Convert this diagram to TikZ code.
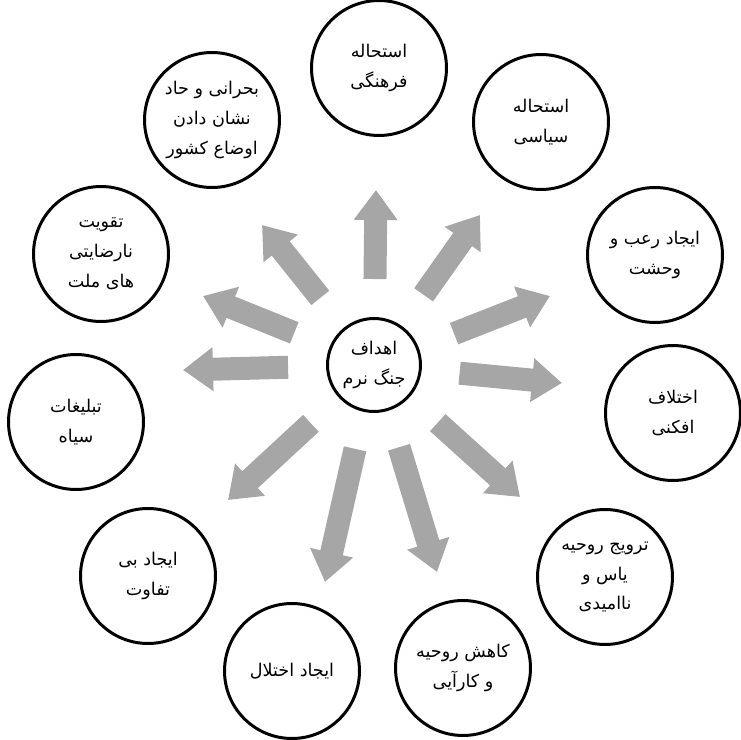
\documentclass[tikz,border=0pt]{standalone}
\usepackage{fontspec}
\newfontfamily\persianfont[Script=Arabic]{DejaVu Sans}
\TeXXeTstate=1
\usepackage{tikz}
\usetikzlibrary{arrows.meta}
\definecolor{arrowgray}{RGB}{166,166,166}
\newcommand{\fa}[1]{\beginR #1\endR}
\tikzset{
  goal circle/.style={
    circle, draw=black, line width=1.7pt, fill=white,
    minimum size=2.7cm, inner sep=0pt, align=center,
    font=\persianfont\fontsize{10}{17}\selectfont
  },
  centre circle/.style={goal circle, minimum size=1.86cm},
  goal arrow/.style={
    draw=arrowgray, line width=0.46cm,
    -{Triangle[length=0.6cm, width=0.84cm]},
    shorten <=0.76cm
  }
}

\begin{document}
\begin{tikzpicture}[x=0.02cm, y=-0.02cm]
    \useasboundingbox (0,0) rectangle (741,740);
    % centre
    \node[centre circle] (goals) at (374,365) {\fa{اهداف}\\\fa{جنگ نرم}};
    % goals around it
    \node[goal circle] (cultural) at (379,68) {\fa{استحاله}\\\fa{فرهنگی}};
    \node[goal circle] (political) at (541,122) {\fa{استحاله}\\\fa{سیاسی}};
    \node[goal circle] (terror) at (655,255) {\fa{ایجاد رعب و}\\\fa{وحشت}};
    \node[goal circle] (discord) at (673,413) {\fa{اختلاف}\\\fa{افکنی}};
    \node[goal circle] (despair) at (605,577) {\fa{ترویج روحیه}\\\fa{یاس و}\\\fa{ناامیدی}};
    \node[goal circle] (morale) at (463,668) {\fa{کاهش روحیه}\\\fa{و کارآیی}};
    \node[goal circle] (disruption) at (292,671) {\fa{ایجاد اختلال}};
    \node[goal circle] (apathy) at (148,576) {\fa{ایجاد بی}\\\fa{تفاوت}};
    \node[goal circle] (propaganda) at (76,422) {\fa{تبلیغات}\\\fa{سیاه}};
    \node[goal circle] (discontent) at (101,254) {\fa{تقویت}\\\fa{نارضایتی}\\\fa{های ملت}};
    \node[goal circle] (crisis) at (212,120) {\fa{بحرانی و حاد}\\\fa{نشان دادن}\\\fa{اوضاع کشور}};
    % arrow tips
    \coordinate (cultural tip) at (376,190);
    \coordinate (political tip) at (480,215);
    \coordinate (terror tip) at (550,296);
    \coordinate (discord tip) at (562,383);
    \coordinate (despair tip) at (520,497);
    \coordinate (morale tip) at (437,572);
    \coordinate (disruption tip) at (325,582);
    \coordinate (apathy tip) at (228,500);
    \coordinate (propaganda tip) at (183,370);
    \coordinate (discontent tip) at (203,296);
    \coordinate (crisis tip) at (262,225);
    \draw[goal arrow] (goals) -- (cultural tip);
    \draw[goal arrow] (goals) -- (political tip);
    \draw[goal arrow] (goals) -- (terror tip);
    \draw[goal arrow] (goals) -- (discord tip);
    \draw[goal arrow] (goals) -- (despair tip);
    \draw[goal arrow] (goals) -- (morale tip);
    \draw[goal arrow] (goals) -- (disruption tip);
    \draw[goal arrow] (goals) -- (apathy tip);
    \draw[goal arrow] (goals) -- (propaganda tip);
    \draw[goal arrow] (goals) -- (discontent tip);
    \draw[goal arrow] (goals) -- (crisis tip);
\end{tikzpicture}
\end{document}
